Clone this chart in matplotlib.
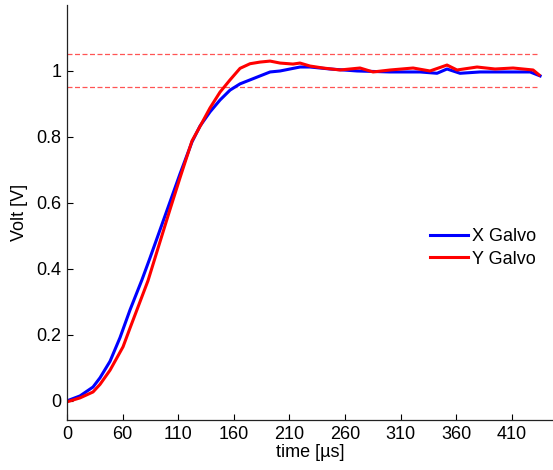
import numpy as np
import matplotlib
matplotlib.use('Agg')
import matplotlib.pyplot as plt

plt.rcParams['font.family'] = ['Liberation Sans', 'DejaVu Sans']

# (x in axis position units, ticks every 50)
x_blue = [0, 11.7, 23.4, 29.7, 38.7, 47.7, 56.7, 67.4, 74.6, 83.6, 92.6, 101.6, 112.4, 119.6,
          128.6, 137.6, 146.6, 155.6, 164.6, 173.6, 182.6, 191.6, 200.5, 209.5, 218.5,
          236.5, 260.8, 290.5, 317.5, 332.7, 341.7, 353.4, 371.4, 407.4, 416.4, 420.9, 425.4]
y_blue = [0, 0.015, 0.042, 0.07, 0.12, 0.192, 0.276, 0.367, 0.433, 0.518, 0.603, 0.688, 0.785, 0.833,
          0.876, 0.912, 0.942, 0.961, 0.973, 0.985, 0.997, 1.0, 1.006, 1.012, 1.012,
          1.006, 1.0, 0.997, 0.997, 0.993, 1.006, 0.993, 0.997, 0.997, 0.997, 0.991, 0.985]

x_red = [0, 11.7, 23.4, 29.7, 38.7, 50.4, 56.7, 65.6, 72.8, 83.6, 92.6, 101.6, 112.4, 119.6,
         128.6, 137.6, 146.6, 155.6, 164.6, 173.6, 182.6, 191.6, 203.2, 209.5, 218.5,
         230.2, 245.5, 263.5, 275.2, 290.5, 311.2, 326.4, 341.7, 350.7, 368.7, 384.9,
         401.1, 419.1, 424.5]
y_red = [-0.003, 0.009, 0.027, 0.05, 0.093, 0.164, 0.221, 0.3, 0.364, 0.482, 0.58, 0.676, 0.788, 0.832,
         0.888, 0.936, 0.973, 1.008, 1.022, 1.027, 1.030, 1.024, 1.021, 1.024, 1.015,
         1.009, 1.003, 1.009, 0.997, 1.003, 1.009, 1.0, 1.018, 1.003, 1.012, 1.006,
         1.009, 1.003, 0.988]

tick_pos = [0, 50, 100, 150, 200, 250, 300, 350, 400]
tick_labels = ['0', '60', '110', '160', '210', '260', '310', '360', '410']
yticks = [0, 0.2, 0.4, 0.6, 0.8, 1]
band = [0.95, 1.05]

fig = plt.figure(figsize=(5.53, 4.70), dpi=100)
ax = fig.add_axes([67/553, 50/470, 486/553, 415/470])

for b in band:
    ax.hlines(b, 0, 424.5, colors='#ff5555', linewidth=0.9, linestyles=(0, (4, 2)))

ax.plot(x_blue, y_blue, color='#0000ff', linewidth=2.2, label='X Galvo')
ax.plot(x_red, y_red, color='#ff0000', linewidth=2.2, label='Y Galvo')

ax.set_xlim(0, 437)
ax.set_ylim(-0.058, 1.2)
ax.set_xticks(tick_pos)
ax.set_xticklabels(tick_labels)
ax.set_yticks(yticks)
ax.set_yticklabels(['0', '0.2', '0.4', '0.6', '0.8', '1'])
ax.tick_params(direction='in', length=4, labelsize=13, width=0.8, pad=4)

for s in ['top', 'right']:
    ax.spines[s].set_visible(False)
for s in ['left', 'bottom']:
    ax.spines[s].set_color('#222222')
    ax.spines[s].set_linewidth(0.9)

ax.set_xlabel('time [\u00b5s]', fontsize=13, labelpad=1)
ax.set_ylabel('Volt [V]', fontsize=13, labelpad=6)

ax.legend(loc='center left', bbox_to_anchor=((421-67)/486, (420-248)/415), frameon=False,
          fontsize=13, handlelength=2.1, handletextpad=0.2, labelspacing=0.3, borderpad=0)

fig.savefig('out.png', dpi=100)
